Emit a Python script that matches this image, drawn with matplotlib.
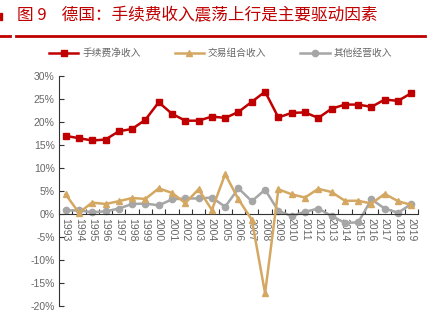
import matplotlib
matplotlib.use('Agg')
import matplotlib.pyplot as plt
from matplotlib.lines import Line2D
from matplotlib.patches import Rectangle
from matplotlib.ticker import FuncFormatter

years = [str(y) for y in range(1993, 2020)]
fee_income = [17.0, 16.5, 16.0, 16.2, 18.0, 18.5, 20.5, 24.3, 21.8, 20.3, 20.3, 21.2,
              20.9, 22.2, 24.4, 26.6, 21.0, 22.0, 22.1, 20.9, 22.9, 23.8, 23.8, 23.3,
              24.9, 24.6, 26.3]
trading_income = [4.3, 0.3, 2.5, 2.2, 2.8, 3.5, 3.3, 5.6, 4.6, 2.4, 5.4, 0.9,
                  8.7, 3.2, -1.2, -17.2, 5.4, 4.3, 3.6, 5.5, 4.8, 2.9, 2.9, 2.3,
                  4.4, 2.8, 2.0]
other_income = [0.8, 0.8, 0.4, 0.6, 1.2, 2.2, 2.3, 1.9, 3.2, 3.4, 3.4, 3.6,
                1.6, 5.6, 2.8, 5.3, 0.7, -0.4, 0.5, 1.2, -0.4, -1.9, -1.8, 3.2,
                1.2, 0.3, 2.2]
series_names = ['手续费净收入', '交易组合收入', '其他经营收入']
title = '图 9    德国：手续费收入震荡上行是主要驱动因素'

red = '#C00000'
gold = '#D4A862'
grey = '#A6A6A6'
text_grey = '#666666'

plt.rcParams['font.family'] = ['Liberation Sans', 'Noto Sans CJK SC', 'DejaVu Sans']
plt.rcParams['axes.unicode_minus'] = False

fig = plt.figure(figsize=(4.4, 3.25), dpi=100)
ax = fig.add_axes([0.134, 0.058, 0.816, 0.708])

x = list(range(len(years)))
ax.plot(x, fee_income, color=red, lw=1.8, marker='s', ms=4.5, label=series_names[0], zorder=4)
ax.plot(x, trading_income, color=gold, lw=1.8, marker='^', ms=5, label=series_names[1], zorder=3)
ax.plot(x, other_income, color=grey, lw=1.8, marker='o', ms=4.5, label=series_names[2], zorder=2)

ax.set_xlim(-0.5, len(years) - 0.5)
ax.set_ylim(-20, 30)
ax.set_yticks(range(-20, 31, 5))
ax.yaxis.set_major_formatter(FuncFormatter(lambda v, p: f'{v:.0f}%'))

# category axis: tick marks between years, labels on the years
ax.set_xticks([i - 0.5 for i in range(len(years) + 1)])
ax.set_xticklabels([])
ax.set_xticks(x, minor=True)
ax.set_xticklabels(years, minor=True)
ax.tick_params(axis='x', which='major', direction='in', length=3.5, width=0.8, color='#333333')
ax.tick_params(axis='x', which='minor', length=0, pad=3, labelrotation=-90,
               labelsize=7.5, labelcolor=text_grey)
ax.tick_params(axis='y', direction='in', length=3.5, width=0.8, color='#333333',
               labelsize=7.5, labelcolor=text_grey, pad=3)

ax.spines['bottom'].set_position(('data', 0))
for s in ['top', 'right']:
    ax.spines[s].set_visible(False)
for s in ['left', 'bottom']:
    ax.spines[s].set_color('#333333')
    ax.spines[s].set_linewidth(0.8)

leg = ax.legend(loc='lower center', bbox_to_anchor=(0.45, 1.04), ncol=3, frameon=False,
                fontsize=7, handlelength=3.0, columnspacing=3.5, handletextpad=0.4,
                labelcolor=text_grey)

# title and red rules
fig.text(0.038, 0.953, title, color=red, fontsize=12, va='center', ha='left',
         family=['Noto Sans CJK SC', 'DejaVu Sans'], fontweight='light')
fig.add_artist(Line2D([0, 0.023], [0.89, 0.89], color=red, lw=2))
fig.add_artist(Line2D([0.036, 0.966], [0.89, 0.89], color=red, lw=2))
fig.add_artist(Rectangle((0, 0.94), 0.004, 0.02, color=red))

fig.savefig('out.png', dpi=100)
